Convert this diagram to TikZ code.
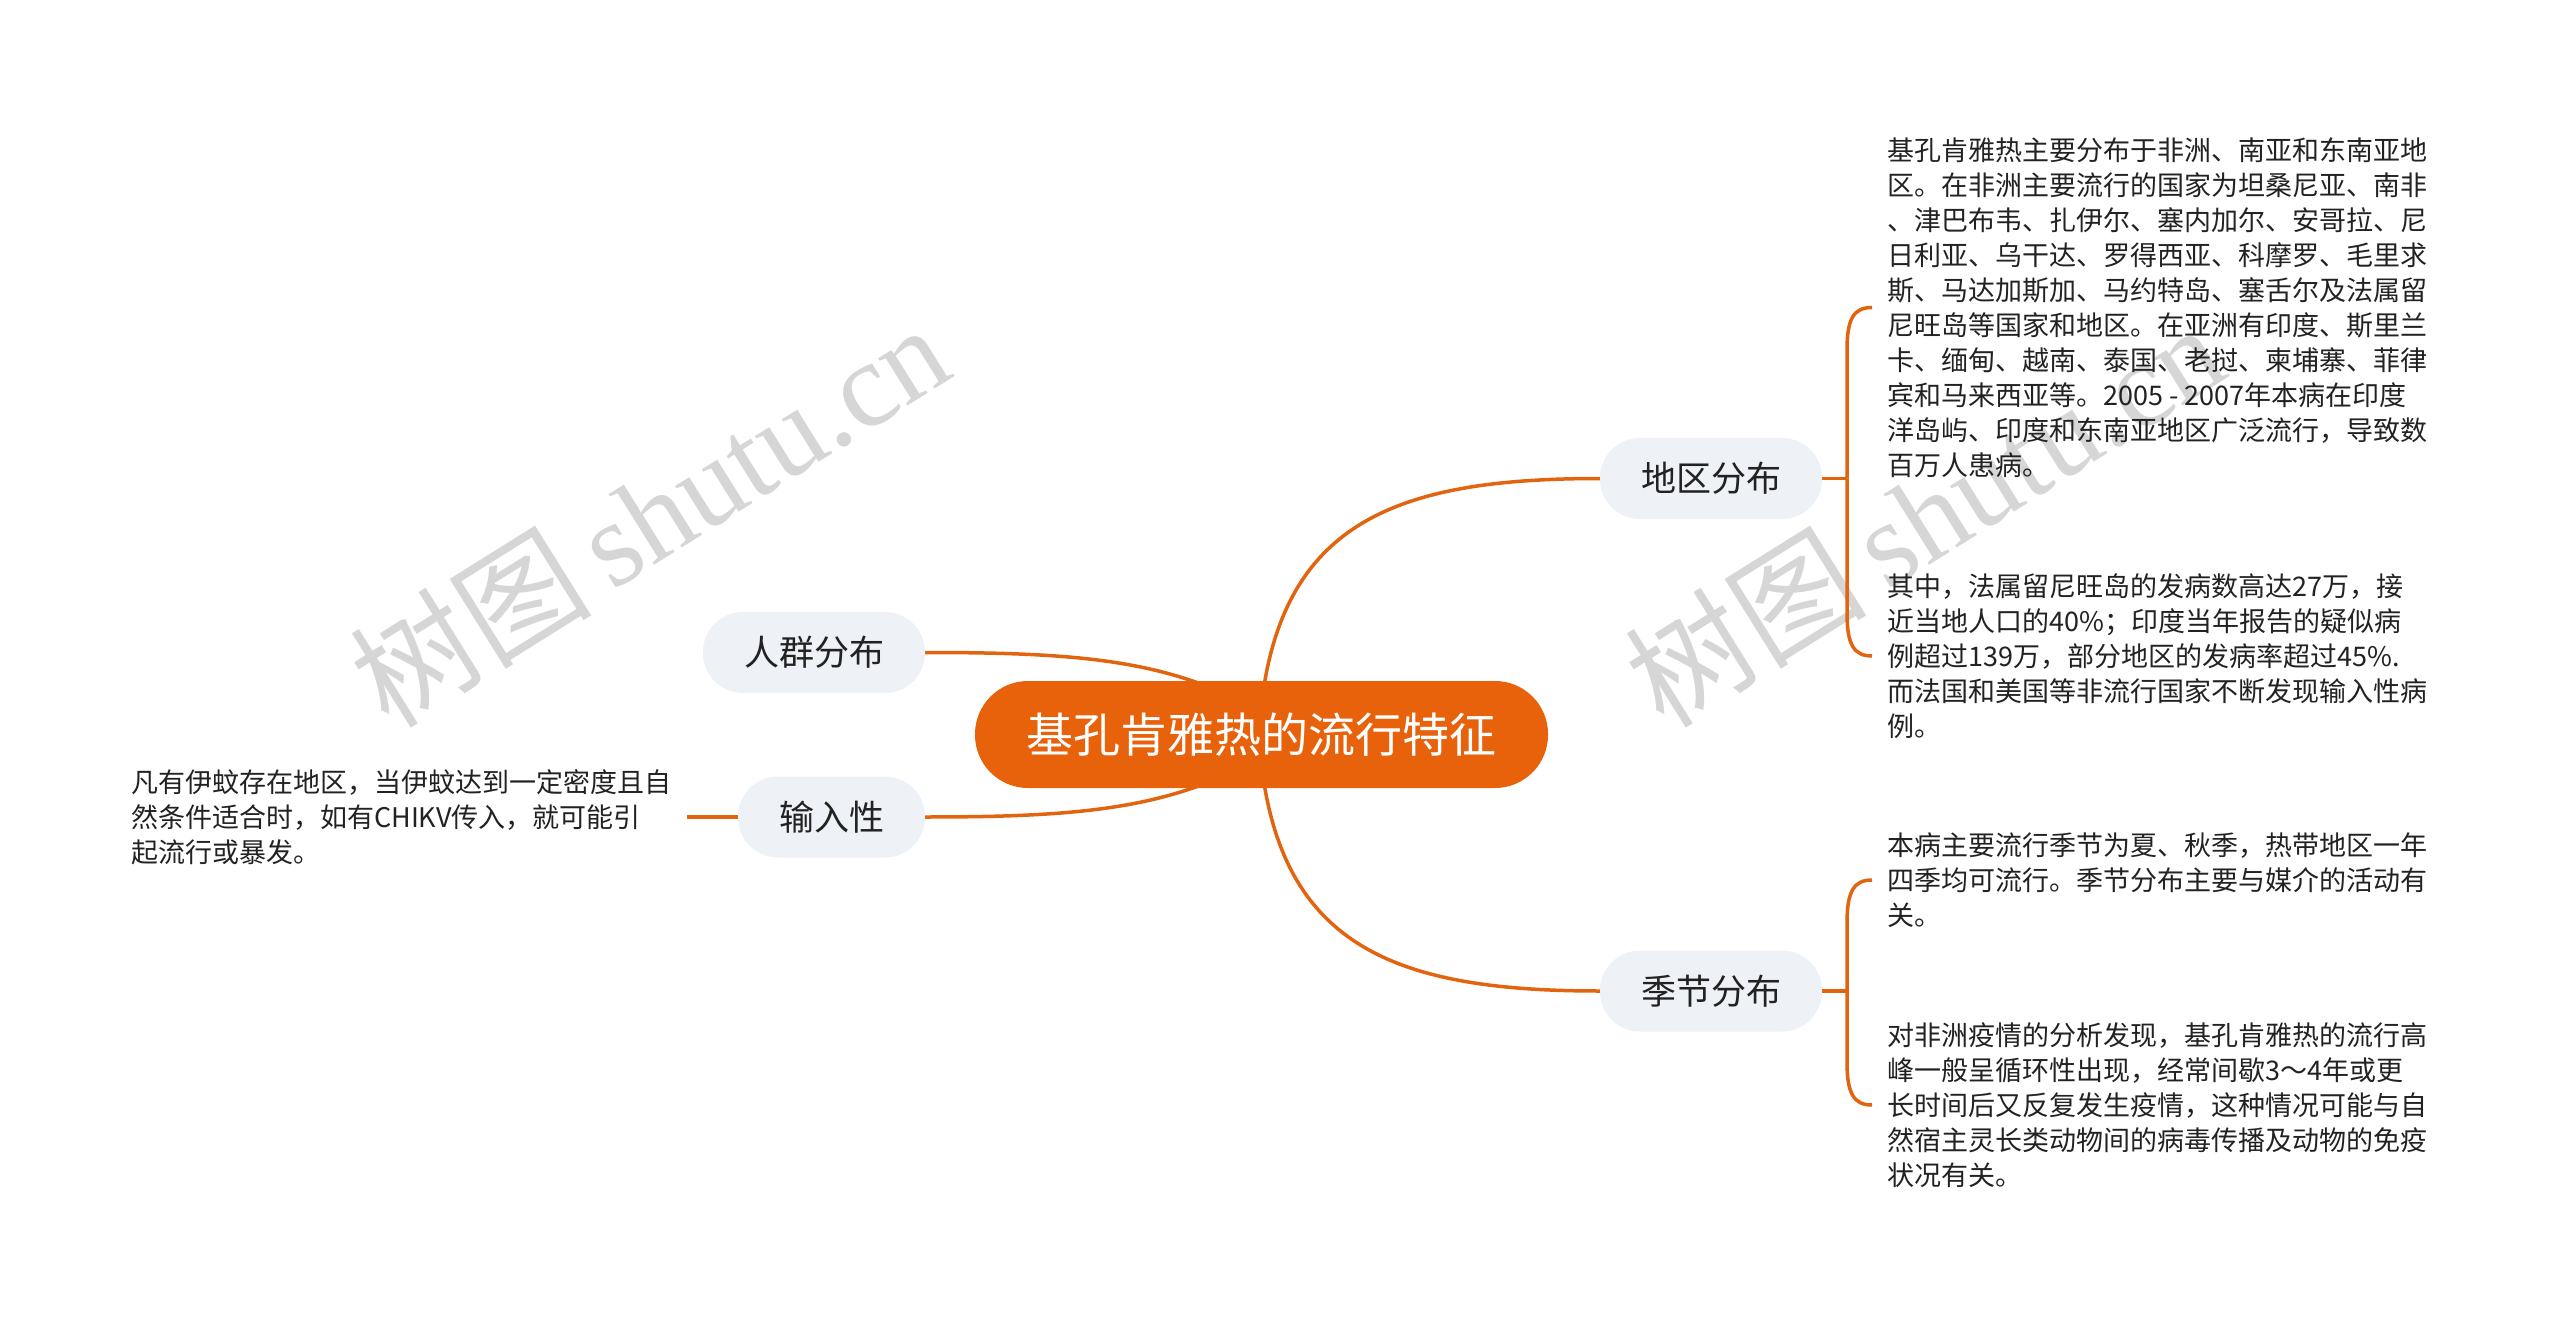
\documentclass[tikz,border=0pt]{standalone}
\usepackage{fontspec}
\setmainfont{Noto Sans CJK SC}
\newfontfamily\wmlatin{Liberation Serif}
\usetikzlibrary{calc}
\definecolor{mainorange}{HTML}{E8620C}
\definecolor{linecol}{HTML}{E2640F}
\definecolor{pillfill}{HTML}{EEF1F5}
\definecolor{txtcol}{HTML}{222222}
\definecolor{wmcol}{HTML}{D6D6D6}
\pgfdeclarelayer{paper}
\pgfdeclarelayer{wm}
\pgfdeclarelayer{bg}
\pgfsetlayers{paper,wm,bg,main}
\begin{document}
\begin{tikzpicture}[x=1pt,y=-1pt,
  mainnode/.style={fill=mainorange,text=white,rounded corners=53pt,minimum width=573pt,minimum height=107pt,inner sep=0pt,font=\fontsize{47}{56}\selectfont},
  subpill/.style={fill=pillfill,text=txtcol,rounded corners=40pt,minimum height=81pt,inner sep=0pt,font=\fontsize{35}{42}\selectfont},
  bodytext/.style={text=txtcol,align=left,inner sep=0pt,anchor=west,font=\fontsize{27}{35}\selectfont},
  conn/.style={draw=linecol,line width=3.5pt},
  wmark/.style={text=wmcol,rotate=32,inner sep=0pt,font=\fontsize{121}{130}\selectfont}
]
\useasboundingbox (0,0) rectangle (2560,1321);
\begin{pgfonlayer}{paper}
\fill[white] (0,0) rectangle (2560,1321);
\end{pgfonlayer}

% nodes
\node[mainnode] (mc) at (1261.5,734.5) {基孔肯雅热的流行特征};
\node[subpill,minimum width=222pt] (dq) at (1711,478.5) {地区分布};
\node[subpill,minimum width=222pt] (jj) at (1711,991) {季节分布};
\node[subpill,minimum width=222pt] (rq) at (814,652.5) {人群分布};
\node[subpill,minimum width=187pt] (sr) at (831.5,817) {输入性};

\node[bodytext] (b1) at (1887,307.5) {基孔肯雅热主要分布于非洲、南亚和东南亚地\\
区。在非洲主要流行的国家为坦桑尼亚、南非\\
、津巴布韦、扎伊尔、塞内加尔、安哥拉、尼\\
日利亚、乌干达、罗得西亚、科摩罗、毛里求\\
斯、马达加斯加、马约特岛、塞舌尔及法属留\\
尼旺岛等国家和地区。在亚洲有印度、斯里兰\\
卡、缅甸、越南、泰国、老挝、柬埔寨、菲律\\
宾和马来西亚等。2005 - 2007年本病在印度\\
洋岛屿、印度和东南亚地区广泛流行，导致数\\
百万人患病。};
\node[bodytext] (b2) at (1887,656) {其中，法属留尼旺岛的发病数高达27万，接\\
近当地人口的40\%；印度当年报告的疑似病\\
例超过139万，部分地区的发病率超过45\%.\\
而法国和美国等非流行国家不断发现输入性病\\
例。};
\node[bodytext] (b3) at (1887,880) {本病主要流行季节为夏、秋季，热带地区一年\\
四季均可流行。季节分布主要与媒介的活动有\\
关。};
\node[bodytext] (b4) at (1887,1105) {对非洲疫情的分析发现，基孔肯雅热的流行高\\
峰一般呈循环性出现，经常间歇3～4年或更\\
长时间后又反复发生疫情，这种情况可能与自\\
然宿主灵长类动物间的病毒传播及动物的免疫\\
状况有关。};
\node[bodytext] (lt) at (131,817) {凡有伊蚊存在地区，当伊蚊达到一定密度且自\\
然条件适合时，如有CHIKV传入，就可能引\\
起流行或暴发。};

% helper coordinates
\coordinate (mcu) at (1262,700);
\coordinate (mcd) at (1262,769);
\coordinate (mcl1) at (1261,712);
\coordinate (mcl2) at (1261,757);
\coordinate (bj1) at (1847,478.5);
\coordinate (bj2) at (1847,991);
\coordinate (e1) at (1872,307.5);
\coordinate (e2) at (1872,656);
\coordinate (e3) at (1872,880);
\coordinate (e4) at (1872,1105);
\coordinate (le) at (687,817);

\begin{pgfonlayer}{wm}
\node[wmark] (wm1) at (649,514) {树图\,{\wmlatin shutu.cn}};
\node[wmark] (wm2) at (1924,514) {树图\,{\wmlatin shutu.cn}};
\end{pgfonlayer}

\begin{pgfonlayer}{bg}
\draw[conn] (mcu) .. controls (1285,520) and (1400,478.5) .. (dq.west);
\draw[conn] (mcd) .. controls (1285,949) and (1400,991) .. (jj.west);
\draw[conn] (mcl1) .. controls (1170,660) and (1080,652.5) .. (rq.east);
\draw[conn] (mcl2) .. controls (1170,809) and (1080,817) .. (sr.east);
\draw[conn] (sr.west) -- (le);
% brackets
\draw[conn] (dq.east) -- (bj1);
\draw[conn] (bj1) -- (1847,350) .. controls (1847,318) and (1854,307.5) .. (e1);
\draw[conn] (bj1) -- (1847,613) .. controls (1847,645) and (1854,656) .. (e2);
\draw[conn] (jj.east) -- (bj2);
\draw[conn] (bj2) -- (1847,923) .. controls (1847,891) and (1854,880) .. (e3);
\draw[conn] (bj2) -- (1847,1062) .. controls (1847,1094) and (1854,1105) .. (e4);
\end{pgfonlayer}
\end{tikzpicture}
\end{document}
